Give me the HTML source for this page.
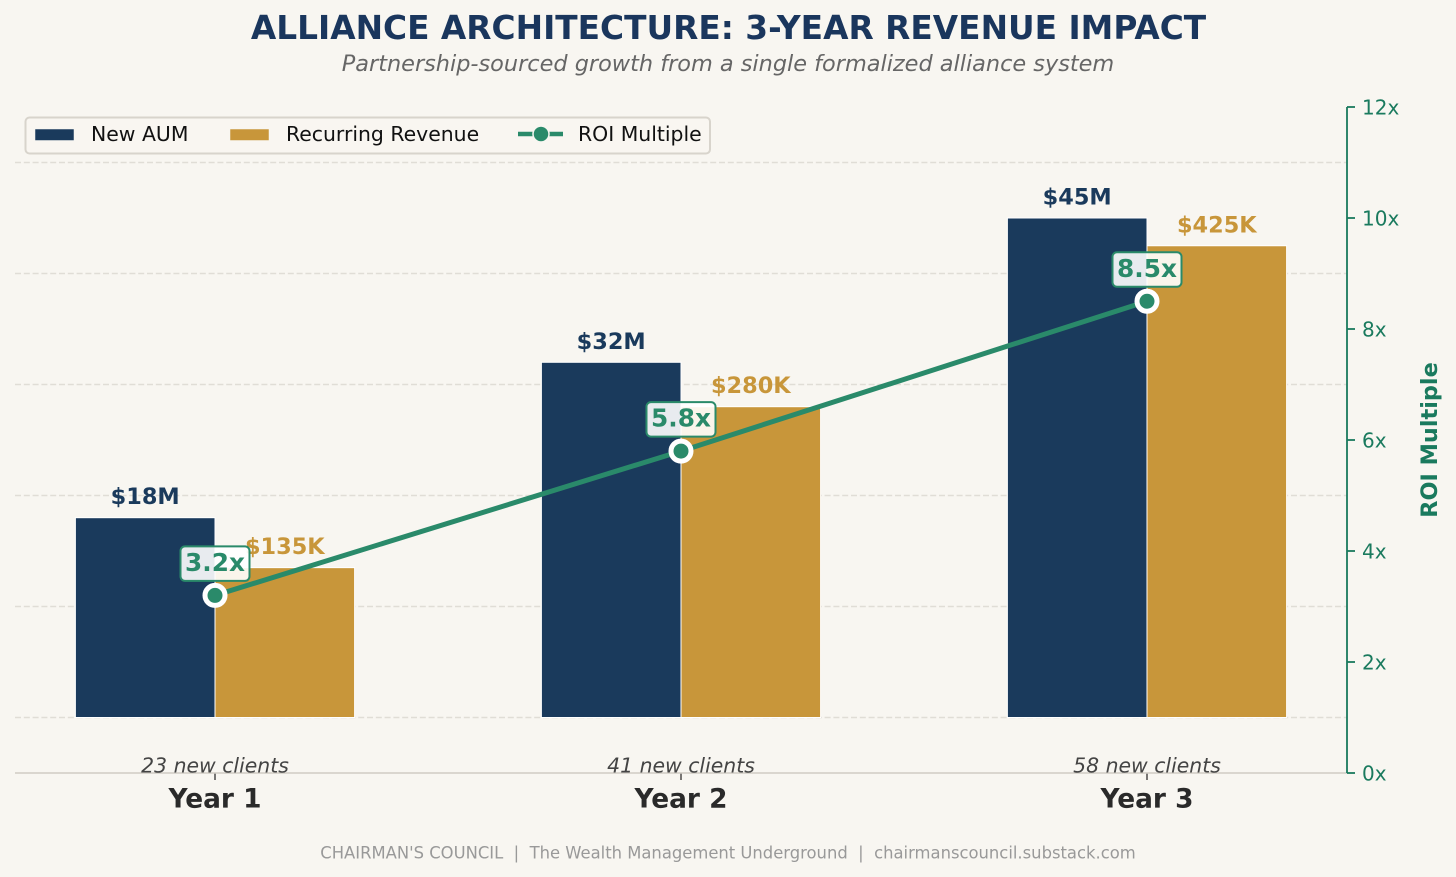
<!DOCTYPE html>
<html lang="en">
<head>
<meta charset="utf-8">
<title>Alliance Architecture: 3-Year Revenue Impact</title>
<style>
html,body{margin:0;padding:0;background:#f8f6f1;}
body{width:1456px;height:877px;overflow:hidden;}
svg{display:block;}
text{font-family:"DejaVu Sans","Liberation Sans",sans-serif;}
</style>
</head>
<body>
<svg id="chart" xmlns="http://www.w3.org/2000/svg" width="1456" height="877" viewBox="0 0 1456 877">
  <rect x="0" y="0" width="1456" height="877" fill="#f8f6f1"/>
  <text x="728.5" y="39" text-anchor="middle" font-size="32.8" font-weight="700" fill="#1a365d">ALLIANCE ARCHITECTURE: 3-YEAR REVENUE IMPACT</text>
  <text x="728" y="71" text-anchor="middle" font-size="22.4" font-style="italic" fill="#666666">Partnership-sourced growth from a single formalized alliance system</text>
  <g id="grid"></g>
  <g id="bars"></g>
  <g id="axes"></g>
  <g id="labels"></g>
  <g id="roi"></g>
  <g>
    <rect x="25.5" y="117.5" width="684.5" height="36" rx="4" fill="#f8f6f1" fill-opacity="0.9" stroke="#d8d4cc" stroke-width="2"/>
    <rect x="35" y="129" width="39" height="11.5" fill="#1a3a5c" stroke="#f8f6f1" stroke-width="0.5"/>
    <text x="91" y="141" font-size="20.4" fill="#111111">New AUM</text>
    <rect x="230" y="129" width="39" height="11.5" fill="#c8963a" stroke="#f8f6f1" stroke-width="0.5"/>
    <text x="286" y="141" font-size="20.4" fill="#111111">Recurring Revenue</text>
    <line x1="518" y1="134" x2="563" y2="134" stroke="#2a8a6a" stroke-width="4.4"/>
    <circle cx="541" cy="134" r="8" fill="#2a8a6a" stroke="#f8f6f1" stroke-width="1.5"/>
    <text x="578" y="141" font-size="20.4" fill="#111111">ROI Multiple</text>
  </g>
  <text x="0" y="0" transform="translate(1437 440) rotate(-90)" text-anchor="middle" font-size="22.4" font-weight="700" fill="#1a7a5e">ROI Multiple</text>
  <text x="728" y="858.5" text-anchor="middle" font-size="16.4" fill="#999999" style="white-space:pre">CHAIRMAN'S COUNCIL  |  The Wealth Management Underground  |  chairmanscouncil.substack.com</text>
</svg>
<script>
const categories = ['Year 1', 'Year 2', 'Year 3'];
const clients = ['23 new clients', '41 new clients', '58 new clients'];
const newAum = [18, 32, 45];
const recurringRevenue = [135, 280, 425];
const roiMultiple = [3.2, 5.8, 8.5];
const gridTicks = [0, 10, 20, 30, 40, 50];
const roiTicks = [0, 2, 4, 6, 8, 10, 12];

const NS = 'http://www.w3.org/2000/svg';
const NAVY = '#1a3a5c';
const GOLD = '#c8963a';
const GREEN = '#2a8a6a';
const TICK_GREEN = '#1a7a5e';
const plotLeft = 15;
const plotRight = 1347;
const plotTop = 107;
const plotBottom = 773;
const barWidth = 139.6;

function xPos(i) { return 215 + 466 * i; }
function yLeft(v) { return 717.5 - 11.1 * v; }
function yRight(v) { return 773 - 55.5 * v; }
function yRevenue(k) { return yLeft(k / 10); }

function make(parent, tag, attrs, content) {
  const el = document.createElementNS(NS, tag);
  for (const k in attrs) el.setAttribute(k, attrs[k]);
  if (content !== undefined) el.textContent = content;
  parent.appendChild(el);
  return el;
}

const grid = document.getElementById('grid');
const bars = document.getElementById('bars');
const axes = document.getElementById('axes');
const labels = document.getElementById('labels');
const roi = document.getElementById('roi');

gridTicks.forEach(function (t) {
  const el = make(grid, 'line', { x1: plotLeft, x2: plotRight, y1: yLeft(t), y2: yLeft(t), stroke: '#e0ddd6', 'stroke-width': 1.6, 'stroke-dasharray': '6 2.8' });
  
  
});

categories.forEach(function (c, i) {
  const cx = xPos(i);
  const a = make(bars, 'rect', { x: cx - barWidth, y: yLeft(newAum[i]), width: barWidth, height: yLeft(0) - yLeft(newAum[i]), fill: NAVY, stroke: '#ffffff', 'stroke-width': 1 });
  
  
  const b = make(bars, 'rect', { x: cx, y: yRevenue(recurringRevenue[i]), width: barWidth, height: yLeft(0) - yRevenue(recurringRevenue[i]), fill: GOLD, stroke: '#ffffff', 'stroke-width': 1 });
  
  

  const la = make(labels, 'text', { x: cx - barWidth / 2, y: yLeft(newAum[i]) - 13.5, 'text-anchor': 'middle', 'font-size': 22.4, 'font-weight': 700, fill: NAVY }, '$' + newAum[i] + 'M');
  
  
  const lb = make(labels, 'text', { x: cx + barWidth / 2, y: yRevenue(recurringRevenue[i]) - 13.5, 'text-anchor': 'middle', 'font-size': 22.4, 'font-weight': 700, fill: GOLD }, '$' + recurringRevenue[i] + 'K');
  
  

  const cl = make(labels, 'text', { x: cx, y: 772.5, 'text-anchor': 'middle', 'font-size': 20.4, 'font-style': 'italic', fill: '#444444' }, clients[i]);
  
  

  const tk = make(axes, 'line', { x1: cx, x2: cx, y1: 773, y2: 780, stroke: '#222222', 'stroke-width': 1.2 });
  
  
  const yr = make(axes, 'text', { x: cx, y: 807.5, 'text-anchor': 'middle', 'font-size': 26.4, 'font-weight': 700, fill: '#2a2a2a' }, c);
  
  
});

const baseline = make(axes, 'line', { x1: plotLeft, x2: plotRight, y1: plotBottom, y2: plotBottom, stroke: '#d0ccc4', 'stroke-width': 1.6 });



const rightSpine = make(axes, 'line', { x1: plotRight, x2: plotRight, y1: plotTop, y2: plotBottom, stroke: TICK_GREEN, 'stroke-width': 1.8 });



roiTicks.forEach(function (t) {
  const tk = make(axes, 'line', { x1: plotRight, x2: plotRight + 8, y1: yRight(t), y2: yRight(t), stroke: TICK_GREEN, 'stroke-width': 1.8 });
  
  
  const tl = make(axes, 'text', { x: plotRight + 15, y: yRight(t) + 7.5, 'font-size': 20, fill: TICK_GREEN }, t + 'x');
  
  
});

const roiLine = make(roi, 'polyline', {
  points: roiMultiple.map(function (v, i) { return xPos(i) + ',' + yRight(v); }).join(' '),
  fill: 'none', stroke: GREEN, 'stroke-width': 5
});



roiMultiple.forEach(function (v, i) {
  const cx = xPos(i);
  const cy = yRight(v);
  const m = make(roi, 'circle', { cx: cx, cy: cy, r: 10, fill: GREEN, stroke: '#ffffff', 'stroke-width': 5 });
  
  
  const box = make(roi, 'rect', { x: cx - 34.5, y: cy - 49, width: 69, height: 34.5, rx: 4.5, fill: '#ffffff', 'fill-opacity': 0.9, stroke: GREEN, 'stroke-width': 2 });
  
  
  const t = make(roi, 'text', { x: cx, y: cy - 24.5, 'text-anchor': 'middle', 'font-size': 24.8, 'font-weight': 700, fill: GREEN }, v.toFixed(1) + 'x');
  
  
});
</script>
</body>
</html>
